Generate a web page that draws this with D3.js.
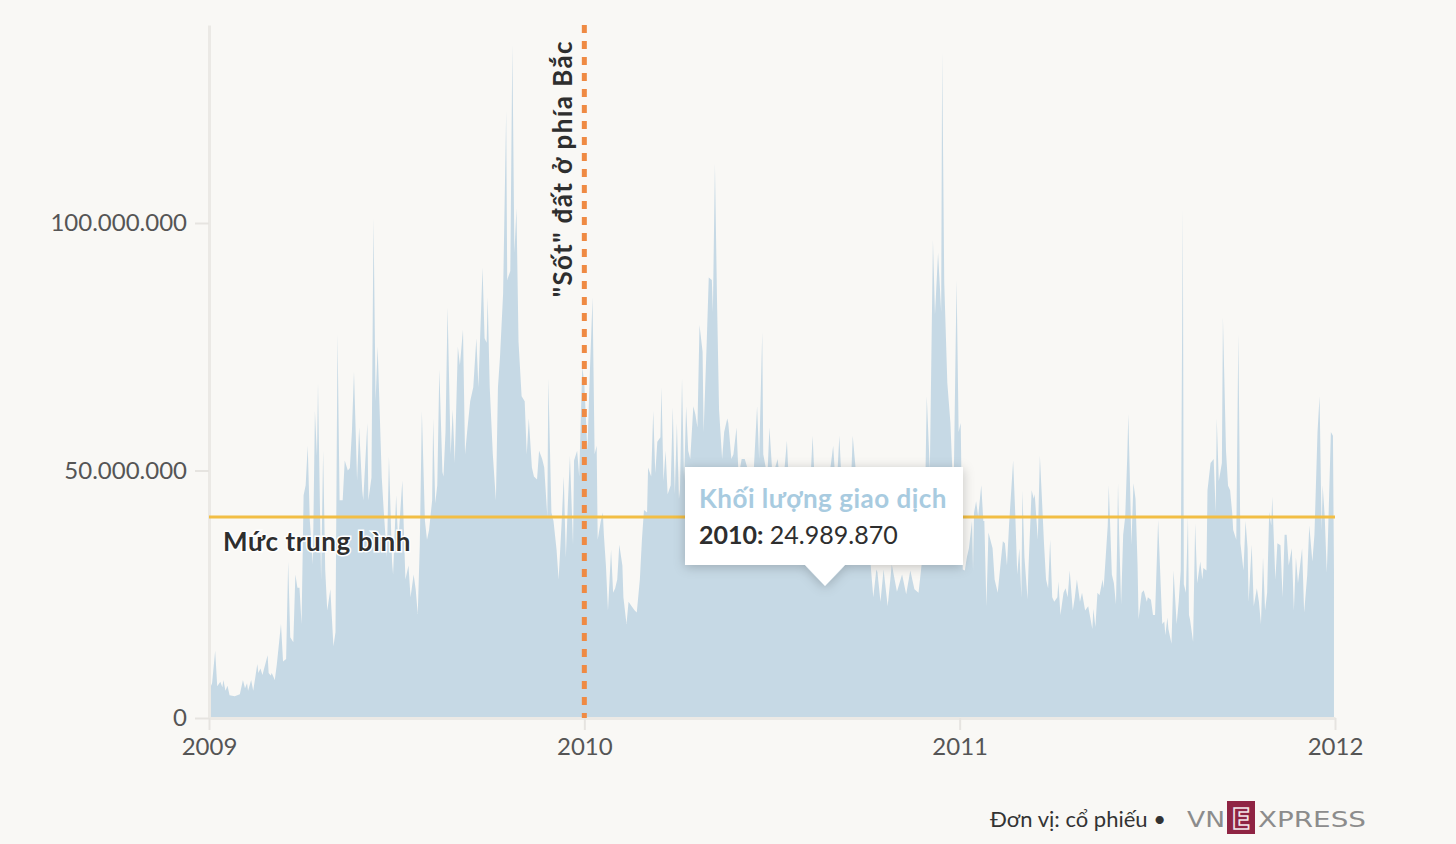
<!DOCTYPE html>
<html>
<head>
<meta charset="utf-8">
<script src="https://cdn.jsdelivr.net/npm/d3@7"></script>
<style>
  body { margin: 0; background: #f9f8f5; }
  svg { display: block; font-family: "Source Sans Pro", Lato, sans-serif; }
</style>
</head>
<body>
<div id="chart"></div>
<script>
// daily trading volume, [days since 2009-01-01, millions of shares]
const vol2009 = [
  [0,5.5],[3,7],[6,13.6],[8,6.4],[11,7.3],[13,6.2],[14,7.7],[16,5.5],[18,6.5],[20,4.6],[25,4.4],[30,4.8],[33,7.7],[35,6],[37,7],[38,5.5],[41,7.7],[43,5.5],[47,10.9],[48,9.1],[50,10],[52,8.7],[53,9.5],[57,12.7],[58,9.1],[60,8.6],[61,9.1],[64,7.7],[66,10.9],[70,19],[72,11.4],[75,11.9],[77,31.6],[79,16.3],[82,15.3],[84,29],[86,26.3],[88,26.3],[90,19],[92,45],[94,47],[96,55],[98,40],[101,31],[103,62],[105,53],[106,67.7],[109,28],[111,54],[113,30],[115,21.7],[118,26],[121,14.5],[123,17.3],[125,77.6],[127,44],[130,44],[132,52],[135,50],[137,50.5],[139,58],[141,70],[144,48],[146,58.7],[149,46],[150,44],[154,59.6],[155,44],[158,48.6],[160,101],[162,64],[164,75],[168,48.6],[170,41.6],[173,32.5],[175,52.8],[178,31.6],[179,29],[182,45],[184,35.3],
  [188,48],[191,28],[194,30.8],[196,24.4],[199,29],[201,26],[203,21],[205,35],[207,62],[210,39.8],[212,36],[214,38],[217,44],[218,60.5],[220,43.4],[222,47],[224,70.4],[227,49.7],[228,48.8],[230,57.8],[232,83],[235,53.3],[237,62.3],[239,51.5],[242,75],[244,71.3],[247,78.5],[249,53.3],[251,57.8],[254,64],[257,66.8],[260,76.7],[262,66.8],[266,91],[268,76.7],[270,75.8],[271,85],[273,66.8],[276,53.3],[279,44],[281,66.8],[283,73],[286,85.7],[289,122.7],[290,88.5],[293,90.3],[295,136],[297,94],[299,103],[301,76],[304,65],[307,64],[309,53.3],[311,60.5],[314,50.6],[316,48.8],[319,48.2],[321,54],[324,52.3],[326,50.6],[329,40.7],[330,68.6],[333,41.5],[335,39.8],[338,34],[340,28],[343,39.8],[345,48.8],[347,32.5],[349,43.4],[351,53],[354,35],[355,52],[358,54],[360,48.8],[363,71]
];
const vol2010 = [
  [365,67.5],[368,54],[370,67.7],[373,85],[375,53.3],[377,55],[378,36],[381,39.8],[383,41.5],[384,37],[386,30.8],[388,21.7],[391,34],[393,25.3],[395,26.2],[397,28],[399,35],[402,30.8],[403,24.4],[406,19],[408,23.5],[411,22.6],[414,21.7],[416,21.3],[419,28],[421,36],[423,42],[426,41.5],[427,50.6],[430,48.8],[432,62],[434,49.5],[436,55.8],[439,56.7],[440,66.8],[442,47.9],[444,54],[446,45.2],[449,47],[451,62.8],[453,45.2],[455,59.6],[457,44.3],[458,46.1],[460,68.6],[462,47.9],[464,63],[466,54],[468,52.3],[471,63],[473,61.3],[475,58.7],[477,79.4],[480,74],[481,57.8],[484,75.8],[486,89],[489,88.5],[490,82],[492,112],[494,84.8],[496,62.3],[499,52.3],[501,57.8],[504,60.5],[505,59.6],[508,52.3],[510,53.3],[513,58.7],[515,48.8],[518,52.3],[521,52.3],[526,48.8],[529,47],[533,63],[535,52.3],[538,78],[539,53.3],[543,48.8],[545,58.7],[548,48.8],[553,52.3],
  [557,44],[562,56],[565,42],[570,47],[575,38],[580,45],[583,40],[587,57],[590,43],[594,39],[597,46],[600,36],[604,50],[607,55],[610,45],[613,57],[616,44],[620,50],[623,40],[626,57],[629,50],[633,40],[638,34],[643,32],[646,24.4],[649,30],[650,29.5],[653,23.5],[656,30],[660,22.6],[664,31],[669,25.5],[674,29],[678,25],[682,29.8],[686,26],[690,25.3],[693,31],[696,40],[698,65],[701,50],[704,96.6],[706,81.5],[709,94],[712,82],[713,134.5],[715,88],[718,67.7],[721,59.6],[724,44.3],[727,88.5],[729,57.8]
];
const vol2011 = [
  [731,59.6],[733,30],[735,29.8],[737,32.5],[739,34.3],[742,39.8],[743,29.8],[744,41.5],[746,43.8],[748,40.7],[751,47],[753,39.8],[754,39.8],[756,22.6],[758,37.5],[762,34.3],[764,28],[767,25.3],[770,31.6],[772,35.7],[774,35.3],[776,30.8],[778,38.9],[781,48.8],[782,52],[784,41.5],[786,29],[788,34.3],[790,24.4],[791,46],[793,32.5],[796,24],[797,30.8],[800,46],[802,44.3],[803,45.2],[806,36],[808,53],[810,44.3],[812,35.3],[814,28],[816,26.2],[818,36],[820,24.4],[822,23.5],[825,24.4],[826,27.6],[828,20.8],[831,25.3],[833,26.2],[835,24.4],[837,29.8],[840,21.7],[842,24.4],[844,28],[847,23.5],[849,25.3],[852,21.7],[855,22.6],[859,18],[860,22],[862,18.4],[864,25.3],[866,24.8],[869,28],[870,26.2],[872,32.5],[874,38.9],[875,47],[878,29],[880,27.2],[882,23],[883,33.9],[884,47.4],[885,38],[887,23],[889,37],[891,40.7],[893,53],[894,61.4],[896,44.3],[897,35],[899,47.4],[901,44.3],[903,30.8],[904,20],[907,25.3],[909,25.8],[912,23.5],[913,24.4],[916,23.9],[918,20.8],[920,20.8],[923,40],
  [927,19],[929,19.5],[930,16.7],[932,20.3],[933,18],[936,15],[938,29.8],[941,19],[943,23.5],[945,29.8],[947,102.9],[948,27],[950,25.3],[952,40.7],[953,20.8],[954,19.9],[957,15.4],[959,39.3],[961,27.2],[964,31.6],[966,28],[967,30.3],[970,29.8],[971,46],[974,51.5],[977,52.3],[979,41.5],[980,60.5],[982,47.9],[985,51.5],[986,81],[989,54],[991,46.9],[993,46],[995,41.5],[996,38],[999,36],[1001,77.6],[1003,35.3],[1006,29.8],[1008,39.8],[1010,34.3],[1011,23.5],[1014,35],[1016,22.6],[1019,26.2],[1021,23.5],[1023,19],[1025,32.5],[1027,21.7],[1029,25.3],[1031,41.6],[1033,38.9],[1034,44.7],[1037,28],[1039,35.3],[1042,34.9],[1044,24.4],[1046,37],[1048,37],[1050,30.8],[1053,34.3],[1055,21.7],[1057,32.5],[1059,27.2],[1063,34.3],[1065,21.3],[1068,28.9],[1070,38.9],[1073,31.6],[1075,37],[1078,57.8],[1080,65],[1082,37.9],[1083,47],[1085,40.7],[1087,29.4],[1088,35.3],[1091,57.8],[1093,57],[1094,30]
];
const yearTicks = [2009, 2010, 2011, 2012];
const volumeTicks = [0, 50e6, 100e6];
const averageVolume = 40.6e6;
const eventDate = "2010-01-01";
const eventLabel = "\"Sốt\" đất ở phía Bắc";
const avgLabel = "Mức trung bình";
const tipTitle = "Khối lượng giao dịch";
const tipYear = "2010:";
const tipValue = 24989870;
const sourceText = "Đơn vị: cổ phiếu •";

const width = 1456, height = 844;
const fmt = d3.formatLocale({ decimal: ",", thousands: ".", grouping: [3], currency: ["", ""] }).format(",d");

const data = vol2009.concat(vol2010, vol2011).map(d => ({
  date: new Date(Date.UTC(2009, 0, 1 + d[0])),
  value: d[1] * 1e6
}));

const svg = d3.select("#chart")
  .append("svg")
  .attr("width", width)
  .attr("height", height);

svg.append("rect").attr("width", width).attr("height", height).attr("fill", "#f9f8f5");

const x = d3.scaleUtc()
  .domain([new Date(Date.UTC(2009, 0, 1)), new Date(Date.UTC(2012, 0, 1))])
  .range([209, 1335]);
const y = d3.scaleLinear()
  .domain([0, 140e6])
  .range([718, 25]);

// area
const area = d3.area()
  .x(d => x(d.date))
  .y0(y(0))
  .y1(d => y(d.value));

svg.append("path")
  .datum(data)
  .attr("fill", "#c6d9e5")
  .attr("d", area);

// axes
const yAxis = svg.append("g")
  .attr("transform", "translate(209,0)")
  .call(d3.axisLeft(y).tickValues(volumeTicks).tickFormat(fmt).tickSize(14).tickSizeOuter(0).tickPadding(8));
const xAxis = svg.append("g")
  .attr("transform", "translate(0,718)")
  .call(d3.axisBottom(x).tickValues(yearTicks.map(t => new Date(Date.UTC(t, 0, 1))))
    .tickFormat(d3.utcFormat("%Y")).tickSize(12).tickSizeOuter(0).tickPadding(8));

[yAxis, xAxis].forEach(g => {
  g.select(".domain").attr("stroke", "#ebe9e5").attr("stroke-width", 3);
  g.selectAll(".tick line").attr("stroke", "#e6e4e0").attr("stroke-width", 2);
  g.selectAll(".tick text").attr("fill", "#555").attr("font-size", 24)
    .attr("font-family", "\"Source Sans Pro\", Lato, sans-serif");
});

// average line
svg.append("line")
  .attr("x1", x.range()[0]).attr("x2", x.range()[1])
  .attr("y1", y(averageVolume)).attr("y2", y(averageVolume))
  .attr("stroke", "#f2be44").attr("stroke-width", 3);

svg.append("text")
  .attr("x", 223).attr("y", y(averageVolume) + 34)
  .attr("font-size", 26).attr("font-weight", 700).attr("fill", "#2e2e2e")
  .attr("letter-spacing", 0.6)
  .attr("stroke", "#fff").attr("stroke-width", 3).attr("paint-order", "stroke")
  .text(avgLabel);

// event marker
const ex = x(new Date(eventDate + "T00:00:00Z"));
svg.append("line")
  .attr("x1", ex).attr("x2", ex)
  .attr("y1", 25).attr("y2", 718)
  .attr("stroke", "#ef8a43").attr("stroke-width", 5)
  .attr("stroke-dasharray", "8,8");

svg.append("text")
  .attr("transform", `translate(${ex - 12},40) rotate(-90)`)
  .attr("text-anchor", "end")
  .attr("font-size", 26).attr("font-weight", 700).attr("fill", "#2e2e2e")
  .attr("letter-spacing", 1.4)
  .text(eventLabel);

// tooltip
const defs = svg.append("defs");
const filter = defs.append("filter").attr("id", "shadow")
  .attr("x", "-20%").attr("y", "-30%").attr("width", "140%").attr("height", "170%");
filter.append("feDropShadow").attr("dx", 0).attr("dy", 2).attr("stdDeviation", 6)
  .attr("flood-color", "#000").attr("flood-opacity", 0.22);

const tip = svg.append("g").attr("filter", "url(#shadow)");
tip.append("path")
  .attr("d", "M685,467H963V565H845L825,586L805,565H685Z")
  .attr("fill", "#fff");

svg.append("text")
  .attr("x", 699).attr("y", 508)
  .attr("font-size", 26).attr("font-weight", 700).attr("fill", "#a8cbe0")
  .attr("letter-spacing", 0.5)
  .text(tipTitle);

const tl = svg.append("text")
  .attr("x", 699).attr("y", 544)
  .attr("font-size", 25).attr("fill", "#2e2e2e");
tl.append("tspan").attr("font-weight", 700).text(tipYear);
tl.append("tspan").text(" " + fmt(tipValue));

// source and logo
svg.append("text")
  .attr("x", 1166).attr("y", 827)
  .attr("text-anchor", "end")
  .attr("font-size", 22).attr("fill", "#333")
  .text(sourceText);

const logo = svg.append("g").attr("font-family", "\"DejaVu Sans\", sans-serif");
logo.append("text")
  .attr("x", 1187).attr("y", 827)
  .attr("font-size", 22).attr("fill", "#8c8c8c")
  .attr("textLength", 38).attr("lengthAdjust", "spacingAndGlyphs")
  .text("VN");
logo.append("rect")
  .attr("x", 1227).attr("y", 801).attr("width", 28).attr("height", 33)
  .attr("fill", "#8f2443");
logo.append("text")
  .attr("x", 1241).attr("y", 829).attr("text-anchor", "middle")
  .attr("font-size", 28).attr("font-weight", 700).attr("fill", "#8f2443")
  .attr("stroke", "#f2e4e8").attr("stroke-width", 1.6)
  .text("E");
logo.append("text")
  .attr("x", 1258).attr("y", 827)
  .attr("font-size", 22).attr("fill", "#8c8c8c")
  .attr("textLength", 108).attr("lengthAdjust", "spacingAndGlyphs")
  .text("XPRESS");
</script>
</body>
</html>
